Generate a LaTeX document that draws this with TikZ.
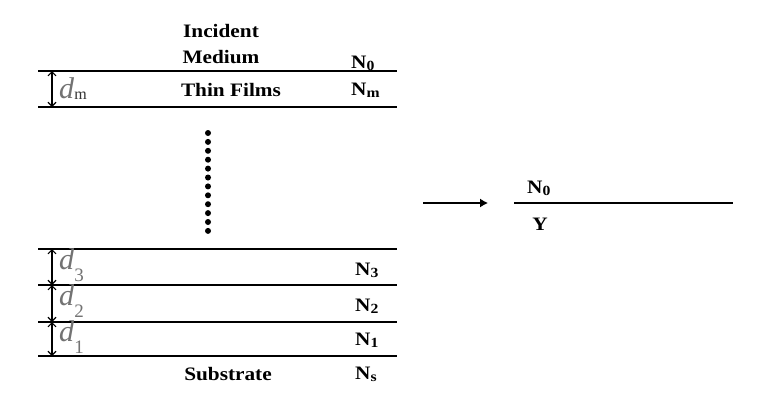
\documentclass[tikz,border=0pt]{standalone}
\usepackage{fontspec}
\setmainfont{Liberation Serif}
\newfontfamily\tfont[FakeStretch=1.12]{Liberation Serif}
\usetikzlibrary{arrows.meta}
\definecolor{dgray}{RGB}{115,115,115}
\tikzset{
  layer/.style={line width=1.7pt},
  lbl/.style={font=\tfont\bfseries\fontsize{19}{21}\selectfont, inner sep=0pt},
  idx/.style={font=\tfont\bfseries\fontsize{19}{21}\selectfont, inner sep=0pt, anchor=west},
  dlbl/.style={font=\fontsize{30}{31}\selectfont, text=dgray, inner sep=0pt, anchor=west},
  thick arrow/.style={line width=1.1pt, {Straight Barb[length=4pt,width=8pt]}-{Straight Barb[length=4pt,width=8pt]}},
  dot/.style={circle, fill=black, inner sep=0pt, minimum size=6pt}
}
\newcommand{\Nsub}[1]{N\raisebox{-2pt}{\fontsize{14}{14}\selectfont #1}}
\begin{document}
\begin{tikzpicture}[x=1pt,y=-1pt]
\useasboundingbox[fill=white] (0,0) rectangle (768,408);
% layer boundary coordinates
\foreach \n/\y in {a/71,b/107,c/249,d/285,e/322,f/356}{
  \coordinate (\n L) at (38,\y);
  \coordinate (\n R) at (397,\y);
  \coordinate (\n A) at (52,\y);
}
\foreach \n in {a,b,c,d,e,f}{\draw[layer] (\n L) -- (\n R);}
% thickness arrows
\draw[thick arrow] (aA) -- (bA);
\draw[thick arrow] (cA) -- (dA);
\draw[thick arrow] (dA) -- (eA);
\draw[thick arrow] (eA) -- (fA);
% texts
\node[lbl] (inc) at (221,31) {Incident};
\node[lbl] (med) at (221,57) {Medium};
\node[lbl] (thin) at (231,90) {Thin Films};
\node[lbl] (sub) at (228,374) {Substrate};
\node[idx] (n0) at (351,63) {\Nsub{0}};
\node[idx] (nm) at (351,90) {\Nsub{m}};
\node[idx] (n3) at (355,270) {\Nsub{3}};
\node[idx] (n2) at (355,306) {\Nsub{2}};
\node[idx] (n1) at (355,340) {\Nsub{1}};
\node[idx] (ns) at (355,374) {\Nsub{s}};
\node[dlbl] (dm) at (59,89) {\textit{d}\raisebox{-1pt}{\fontsize{16}{16}\selectfont\color{black!80} m}};
\node[dlbl] (d3) at (59,265) {\textit{d}\raisebox{-12pt}{\fontsize{19}{19}\selectfont 3}};
\node[dlbl] (d2) at (59,301) {\textit{d}\raisebox{-12pt}{\fontsize{19}{19}\selectfont 2}};
\node[dlbl] (d1) at (59,337) {\textit{d}\raisebox{-12pt}{\fontsize{19}{19}\selectfont 1}};
% dots
\foreach \i in {0,...,11}{\node[dot] (dot\i) at (208,133+\i*8.9) {};}
% right part
\coordinate (arS) at (423,203);
\coordinate (arE) at (488,203);
\draw[line width=1.2pt, -{Latex[length=8pt,width=9pt]}] (arS) -- (arE);
\coordinate (rL) at (514,203);
\coordinate (rR) at (733,203);
\draw[line width=1.4pt] (rL) -- (rR);
\node[idx] (rn0) at (527,188) {\Nsub{0}};
\node[lbl] (ry) at (540,224) {Y};
\end{tikzpicture}
\end{document}
